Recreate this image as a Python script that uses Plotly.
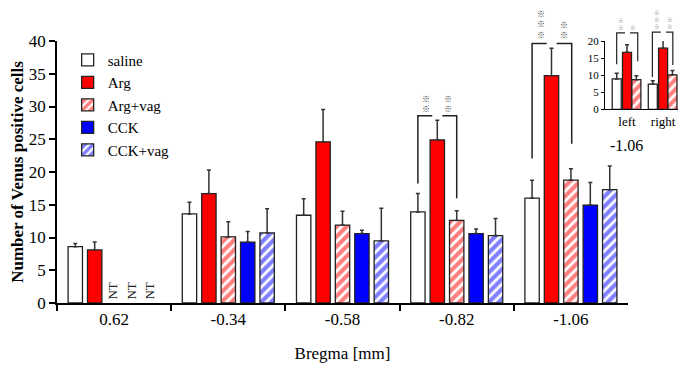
import plotly.graph_objects as go

# ---------------- data ----------------
categories = ["0.62", "-0.34", "-0.58", "-0.82", "-1.06"]
saline = [8.6, 13.6, 13.4, 13.9, 16.0]
saline_err = [0.5, 1.8, 2.5, 2.8, 2.75]
arg = [8.1, 16.7, 24.6, 24.9, 34.7]
arg_err = [1.2, 3.6, 4.95, 3.0, 4.2]
argvag = [None, 10.1, 11.9, 12.6, 18.75]
argvag_err = [None, 2.3, 2.1, 1.5, 1.75]
cck = [None, 9.3, 10.6, 10.6, 14.95]
cck_err = [None, 1.6, 0.5, 0.7, 3.45]
cckvag = [None, 10.7, 9.5, 10.3, 17.3]
cckvag_err = [None, 3.7, 4.95, 2.6, 3.6]

inset_categories = ["left", "right"]
ins_saline = [8.9, 7.4]
ins_saline_err = [1.7, 1.0]
ins_arg = [16.7, 17.9]
ins_arg_err = [2.2, 2.4]
ins_argvag = [8.7, 10.1]
ins_argvag_err = [1.1, 1.3]

FONT = "Liberation Serif"
STAR_FONT = "Noto Sans CJK JP"
RED = "#ff0000"
BLUE = "#0000ff"
EDGE = "#222222"

fig = go.Figure()


def err(vals):
    return dict(type="data", array=vals, symmetric=False,
                arrayminus=[0 if v is not None else None for v in vals],
                color="#333333", thickness=1.5, width=2)


def add_bar(name, y, e, color, pattern=None, xa="x", ya="y", xcat=None,
            showlegend=True, offset=None, width=None):
    marker = dict(color=color, line=dict(color=EDGE, width=1.3))
    if pattern:
        marker["pattern"] = dict(shape="/", fgcolor=pattern, bgcolor="white",
                                 size=7, solidity=0.6, fillmode="overlay")
    fig.add_trace(go.Bar(name=name, x=xcat, y=y, error_y=err(e), marker=marker,
                         xaxis=xa, yaxis=ya, showlegend=showlegend,
                         offset=offset, width=width))


add_bar("saline", saline, saline_err, "white", xcat=categories)
add_bar("Arg", arg, arg_err, RED, xcat=categories)
add_bar("Arg+vag", argvag, argvag_err, "white", pattern=RED, xcat=categories)
add_bar("CCK", cck, cck_err, BLUE, xcat=categories)
add_bar("CCK+vag", cckvag, cckvag_err, "white", pattern=BLUE, xcat=categories)

# inset
add_bar("saline", ins_saline, ins_saline_err, "white", xa="x2", ya="y2",
        xcat=inset_categories, showlegend=False, offset=-0.41, width=0.25)
add_bar("Arg", ins_arg, ins_arg_err, RED, xa="x2", ya="y2",
        xcat=inset_categories, showlegend=False, offset=-0.125, width=0.25)
add_bar("Arg+vag", ins_argvag, ins_argvag_err, "white", pattern=RED, xa="x2", ya="y2",
        xcat=inset_categories, showlegend=False, offset=0.135, width=0.25)

# ---------------- significance brackets ----------------
def bracket(xref, yref, pts, color="#222222", w=1.5):
    path = "M " + " L ".join(f"{x},{y}" for x, y in pts)
    fig.add_shape(type="path", path=path, xref=xref, yref=yref,
                  line=dict(color=color, width=w))


# main -0.82 (index 3)
bracket("x", "y", [(3 - 0.34, 18.25), (3 - 0.34, 28.6), (3 - 0.214, 28.6)])
bracket("x", "y", [(3 - 0.126, 28.6), (3.0, 28.6), (3.0, 16.0)])
# main -1.06 (index 4)
bracket("x", "y", [(4 - 0.34, 22.05), (4 - 0.34, 39.6), (4 - 0.212, 39.6)])
bracket("x", "y", [(4 - 0.125, 39.6), (4.007, 39.6), (4.007, 24.3)])

# inset (y in domain fraction of 0..20)
def d(v):
    return v / 20.0

bracket("x2", "y2 domain", [(-0.286, d(13.2)), (-0.286, d(22.4)), (-0.056, d(22.4))], w=1.2)
bracket("x2", "y2 domain", [(0.083, d(22.4)), (0.297, d(22.4)), (0.297, d(14.1))], w=1.2)
bracket("x2", "y2 domain", [(1 - 0.297, d(9.5)), (1 - 0.297, d(22.6)), (1 - 0.064, d(22.6))], w=1.2)
bracket("x2", "y2 domain", [(1.083, d(22.6)), (1.27, d(22.6)), (1.27, d(13.0))], w=1.2)


def stars(xref, yref, x, y, n, size=8, color="#333333", shift=1):
    fig.add_annotation(xref=xref, yref=yref, x=x, y=y, text="<br>".join(["※"] * n),
                       showarrow=False, yanchor="bottom", xanchor="center",
                       font=dict(size=size, color=color, family=STAR_FONT),
                       yshift=shift, borderpad=0)


stars("x", "y", 3 - 0.27, 28.6, 2)
stars("x", "y", 3 - 0.074, 28.6, 2)
stars("x", "y", 4 - 0.264, 39.6, 3, shift=3)
stars("x", "y", 4 - 0.06, 39.6, 2, shift=3)
stars("x2", "y2 domain", -0.167, d(22.4), 2, size=5.5, color="#777777", shift=0)
stars("x2", "y2 domain", 0.175, d(22.4), 1, size=5.5, color="#777777", shift=0)
stars("x2", "y2 domain", 1 - 0.175, d(22.6), 3, size=5.5, color="#777777", shift=0)
stars("x2", "y2 domain", 1.194, d(22.6), 2, size=5.5, color="#777777", shift=0)

# NT labels (untested groups at Bregma 0.62, category index 0)
for shift in (-2, 17, 35):
    fig.add_annotation(xref="x", yref="y", x=0, y=0, text="NT",
                       showarrow=False, textangle=-90, yanchor="bottom",
                       xshift=shift, yshift=1,
                       font=dict(size=13, family=FONT, color="#222222"))

# inset caption
fig.add_annotation(xref="paper", yref="paper", x=0.938, y=0.603, text="-1.06",
                   showarrow=False, font=dict(size=16, family=FONT, color="black"))

# ---------------- layout ----------------
fig.update_layout(
    width=678, height=359, autosize=False,
    margin=dict(l=49, r=2, t=33, b=64),
    plot_bgcolor="white", paper_bgcolor="white",
    barmode="group", bargap=0.15, bargroupgap=0.26,
    font=dict(family=FONT, size=16, color="black"),
    legend=dict(x=0.017, y=0.99, xanchor="left", yanchor="top",
                font=dict(size=15, family=FONT), bgcolor="rgba(0,0,0,0)",
                tracegroupgap=0, itemwidth=30),
    xaxis=dict(domain=[0, 0.9107], type="category", showline=True, linecolor="black",
               linewidth=1.5, ticks="outside", tickson="boundaries", ticklen=6,
               tickwidth=1.5, tickcolor="black", showgrid=False, zeroline=False,
               automargin=False, tickfont=dict(size=17, family=FONT),
               title=dict(text="Bregma [mm]", font=dict(size=17, family=FONT), standoff=19)),
    yaxis=dict(range=[0, 40], dtick=5, showline=True, linecolor="black", linewidth=1.5,
               ticks="outside", ticklen=6, tickwidth=1.5, tickcolor="black",
               showgrid=False, zeroline=False, automargin=False,
               tickfont=dict(size=17, family=FONT),
               title=dict(text="Number of Venus positive cells",
                          font=dict(size=17, family=FONT, weight="bold"), standoff=8)),
    xaxis2=dict(domain=[0.874, 1.0], anchor="y2", type="category", range=[-0.61, 1.58],
                showline=True, linecolor="black", linewidth=1.2, ticks="",
                showgrid=False, zeroline=False, automargin=False,
                tickfont=dict(size=13, family=FONT)),
    yaxis2=dict(domain=[0.739, 1.0], anchor="x2", range=[0, 20], dtick=5, showline=True,
                linecolor="black", linewidth=1.2, ticks="outside", ticklen=3,
                tickcolor="black", showgrid=False, zeroline=False, automargin=False,
                tickfont=dict(size=11, family=FONT)),
)

fig.write_html("out.html")
